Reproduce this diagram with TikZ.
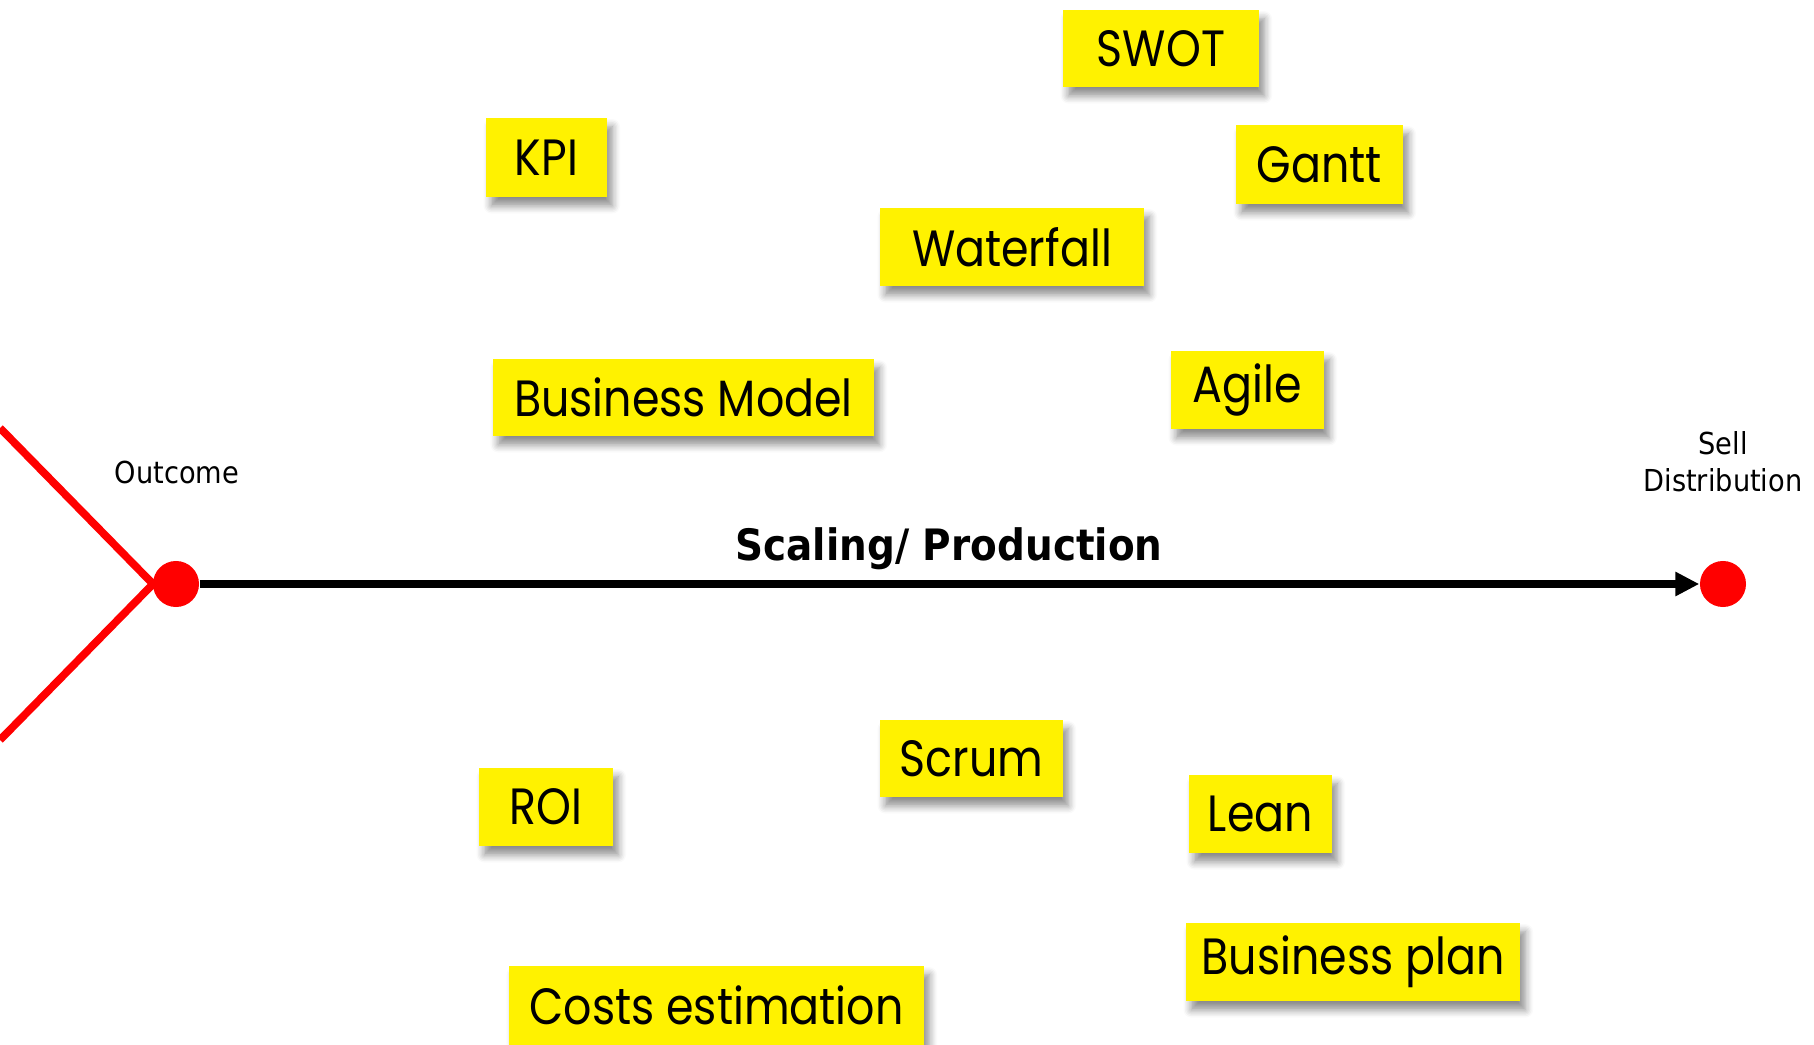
\documentclass[tikz,border=0pt]{standalone}
\usepackage{fontspec}
\setmainfont{DejaVu Sans}
\newfontfamily\notefont[FakeStretch=0.87]{Poppins}
\newfontfamily\labfont[FakeStretch=0.9]{DejaVu Sans}
\usetikzlibrary{arrows.meta,shadows.blur}
\tikzset{
  note/.style={fill=yellow, inner sep=0pt, font=\notefont\fontsize{14.5pt}{16pt}\selectfont,
    blur shadow={shadow xshift=1.5pt, shadow yshift=-2.5pt, shadow blur steps=6, shadow opacity=45}},
  reddot/.style={circle, fill=red, minimum size=0.46cm, inner sep=0pt},
  redline/.style={red, line width=2.2pt},
  axis/.style={black, line width=2.4pt, -{Triangle[length=0.24cm,width=0.23cm]}},
  lab/.style={font=\labfont\fontsize{8.6pt}{10.6pt}\selectfont, align=center}
}
\begin{document}
\begin{tikzpicture}[x=0.01cm,y=-0.01cm]
\useasboundingbox (0,0) rectangle (1814,1045);
\begin{scope}
\clip (0,0) rectangle (1814,1045);
\node[note, minimum width=1.96cm, minimum height=0.77cm] (swot) at (1161,48.5) {SWOT};
\node[note, minimum width=1.21cm, minimum height=0.79cm] (kpi) at (546.5,157.5) {KPI};
\node[note, minimum width=1.67cm, minimum height=0.79cm] (gantt) at (1319.5,164.5) {Gantt};
\node[note, minimum width=2.64cm, minimum height=0.78cm] (waterfall) at (1012,247) {Waterfall};
\node[note, minimum width=3.81cm, minimum height=0.77cm] (bmodel) at (683.5,397.5) {Business Model};
\node[note, minimum width=1.53cm, minimum height=0.78cm] (agile) at (1247.5,390) {Agile};
\node[note, minimum width=1.83cm, minimum height=0.77cm] (scrum) at (971.5,758.5) {Scrum};
\node[note, minimum width=1.34cm, minimum height=0.78cm] (roi) at (546,807) {ROI};
\node[note, minimum width=1.43cm, minimum height=0.78cm] (lean) at (1260.5,814) {Lean};
\node[note, minimum width=3.34cm, minimum height=0.78cm] (bplan) at (1353,962) {Business plan};
\node[note, minimum width=4.15cm, minimum height=0.79cm] (costs) at (716.5,1005.5) {Costs estimation};
\coordinate (t1) at (0,428);
\coordinate (t2) at (0,740);
\coordinate (v) at (153,584);
\draw[redline] (t1) -- (v) -- (t2);
\node[reddot] (out) at (176,584) {};
\node[reddot] (sell) at (1723,584) {};
\draw[axis] (out) -- (sell);
\node[lab] (outlab) at (177,472) {Outcome};
\node[lab] (selllab) at (1723,462) {Sell\\Distribution};
\node[font=\labfont\bfseries\fontsize{12.3pt}{14pt}\selectfont] (scal) at (949,548.5) {Scaling/ Production};
\end{scope}
\end{tikzpicture}
\end{document}
